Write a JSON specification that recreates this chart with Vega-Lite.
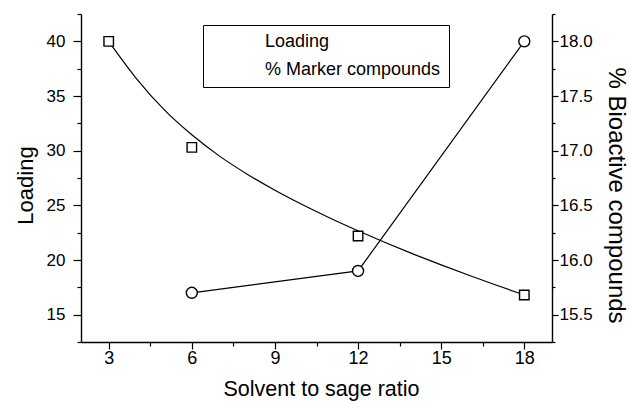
{
  "$schema": "https://vega.github.io/schema/vega-lite/v6.json",
  "autosize": {"type": "none"},
  "width": 471,
  "height": 328,
  "padding": {"left": 81, "top": 14, "right": 78, "bottom": 59},
  "background": "white",
  "config": {
    "font": "Liberation Sans",
    "view": {"stroke": null},
    "axis": {"domainColor": "black", "domainWidth": 1.4, "tickColor": "black", "tickWidth": 1.2, "labelColor": "black", "titleColor": "black", "labelFont": "Liberation Sans", "titleFont": "Liberation Sans", "titleFontWeight": "normal", "grid": false}
  },
  "datasets": {
    "loading": [
      {"ratio": 3, "loading": 40.0},
      {"ratio": 6, "loading": 30.3},
      {"ratio": 12, "loading": 22.2},
      {"ratio": 18, "loading": 16.8}
    ],
    "fit": [
      {"ratio": 3, "loading": 40.0},
      {"ratio": 4, "loading": 36.6},
      {"ratio": 5, "loading": 33.75},
      {"ratio": 6, "loading": 31.45},
      {"ratio": 7, "loading": 29.5},
      {"ratio": 8, "loading": 27.85},
      {"ratio": 9, "loading": 26.38},
      {"ratio": 10, "loading": 25.05},
      {"ratio": 11, "loading": 23.82},
      {"ratio": 12, "loading": 22.67},
      {"ratio": 13, "loading": 21.58},
      {"ratio": 14, "loading": 20.54},
      {"ratio": 15, "loading": 19.55},
      {"ratio": 16, "loading": 18.6},
      {"ratio": 17, "loading": 17.69},
      {"ratio": 18, "loading": 16.8}
    ],
    "marker": [
      {"ratio": 6, "pct": 15.7},
      {"ratio": 12, "pct": 15.9},
      {"ratio": 18, "pct": 18.0}
    ]
  },
  "encoding": {
    "x": {
      "field": "ratio", "type": "quantitative",
      "scale": {"domain": [2, 19], "nice": false, "zero": false},
      "axis": {
        "title": "Solvent to sage ratio",
        "values": [3, 4.5, 6, 7.5, 9, 10.5, 12, 13.5, 15, 16.5, 18],
        "labelExpr": "datum.value % 3 === 0 ? datum.label : ''",
        "tickSize": {"condition": {"test": "datum.value % 3 === 0", "value": 7}, "value": 4},
        "labelFontSize": 18, "labelPadding": 0, "labelFlush": false,
        "titleFontSize": 21.5, "titleBaseline": "alphabetic", "titleX": 240, "titleY": 53
      }
    }
  },
  "layer": [
    {
      "encoding": {
        "y": {
          "field": "loading", "type": "quantitative",
          "scale": {"domain": [12.5, 42.5], "nice": false, "zero": false},
          "axis": {
            "orient": "left",
            "title": "Loading",
            "values": [12.5, 15, 17.5, 20, 22.5, 25, 27.5, 30, 32.5, 35, 37.5, 40, 42.5],
            "labelExpr": "datum.value % 5 === 0 ? datum.label : ''",
            "tickSize": {"condition": {"test": "datum.value % 5 === 0", "value": 8}, "value": 4},
            "labelFontSize": 17, "labelPadding": 8,
            "titleFontSize": 22, "titleBaseline": "alphabetic", "titleAngle": -90, "titleX": -49, "titleY": 171
          }
        }
      },
      "layer": [
        {
          "data": {"name": "fit"},
          "mark": {"type": "line", "interpolate": "monotone", "color": "black", "strokeWidth": 1.2}
        },
        {
          "data": {"name": "loading"},
          "mark": {"type": "point", "filled": true, "fill": "white", "stroke": "black", "strokeWidth": 1.3, "size": 0, "opacity": 1},
          "encoding": {
            "shape": {
              "datum": "Loading",
              "scale": {
                "domain": ["Loading", "% Marker compounds"],
                "range": ["M0,0H3.85M5.75,0H9M3.85,-0.95H5.75V0.95H3.85Z", "M0,0H3.7M5.9,0H9M3.7,0A1.1,1.1 0 1,0 5.9,0A1.1,1.1 0 1,0 3.7,0Z"]
              },
              "legend": {
                "orient": "none", "legendX": 122, "legendY": 11,
                "title": null,
                "strokeColor": "black",
                "padding": 8,
                "labelFontSize": 18, "labelColor": "black", "labelFont": "Liberation Sans", "labelLimit": 400,
                "symbolSize": 100, "symbolOpacity": 1, "symbolStrokeWidth": 1.3,
                "symbolFillColor": "white", "symbolStrokeColor": "black",
                "labelOffset": 36, "rowPadding": 10,
                "encode": {
                  "legend": {"strokeWidth": {"value": 1.2}}
                }
              }
            }
          }
        },
        {
          "data": {"name": "loading"},
          "mark": {"type": "point", "shape": "square", "filled": true, "fill": "white", "stroke": "black", "strokeWidth": 1.4, "size": 90, "opacity": 1}
        }
      ]
    },
    {
      "data": {"name": "marker"},
      "encoding": {
        "y": {
          "field": "pct", "type": "quantitative",
          "scale": {"domain": [15.25, 18.25], "nice": false, "zero": false},
          "axis": {
            "orient": "right",
            "title": "% Bioactive compounds",
            "values": [15.25, 15.5, 15.75, 16.0, 16.25, 16.5, 16.75, 17.0, 17.25, 17.5, 17.75, 18.0, 18.25],
            "format": ".1f",
            "labelExpr": "round(datum.value * 4) % 2 === 0 ? datum.label : ''",
            "tickSize": {"condition": {"test": "round(datum.value * 4) % 2 === 0", "value": 6}, "value": 3},
            "labelFontSize": 17, "labelPadding": 1,
            "titleFontSize": 24, "titleBaseline": "alphabetic", "titleAngle": 90, "titleX": 56, "titleY": 181
          }
        }
      },
      "layer": [
        {
          "mark": {"type": "line", "color": "black", "strokeWidth": 1.2}
        },
        {
          "mark": {"type": "point", "shape": "circle", "filled": true, "fill": "white", "stroke": "black", "strokeWidth": 1.4, "size": 121, "opacity": 1}
        }
      ]
    }
  ],
  "resolve": {"scale": {"y": "independent"}}
}
